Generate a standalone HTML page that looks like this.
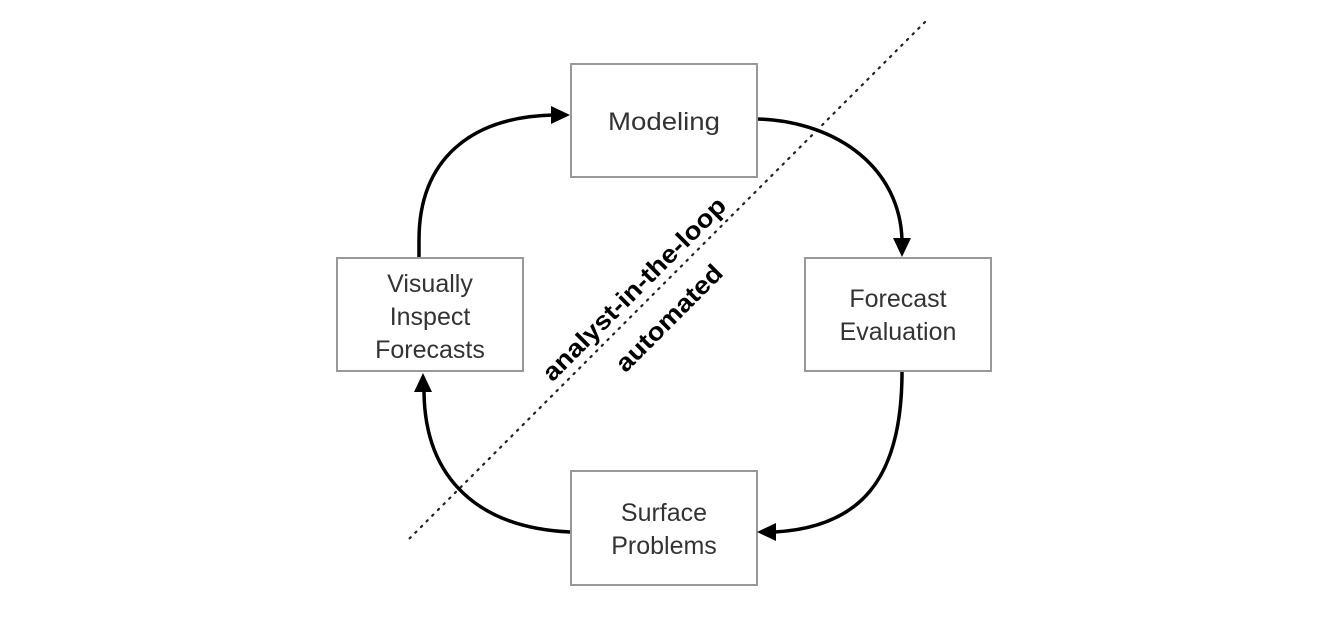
<!DOCTYPE html>
<html><head><style>
html,body{margin:0;padding:0;background:#fff;}
</style></head><body>
<svg width="1322" height="616" viewBox="0 0 1322 616" xmlns="http://www.w3.org/2000/svg">
<line x1="925" y1="22" x2="408" y2="540" stroke="#222" stroke-width="2.2" stroke-dasharray="1.5 6.5" stroke-linecap="round"/>
<g fill="#fff" stroke="#999" stroke-width="2">
<rect x="571" y="64" width="186" height="113"/>
<rect x="337" y="258" width="186" height="113"/>
<rect x="805" y="258" width="186" height="113"/>
<rect x="571" y="471" width="186" height="114"/>
</g>
<g fill="none" stroke="#000" stroke-width="3.5">
<path d="M419 257 L419 240 C419 160 470 117 553 115"/>
<path d="M758 119 C840 122 900 170 902 240"/>
<path d="M902 372 C902 480 860 527 775 532"/>
<path d="M570 532 C480 528 425 480 424 392"/>
</g>
<g fill="#000">
<polygon points="570,115 551,106 551,124"/>
<polygon points="902,257 893,238 911,238"/>
<polygon points="757,532 776,523 776,541"/>
<polygon points="423,373 414,392 432,392"/>
</g>
<g font-family="Liberation Sans, sans-serif" font-size="25" fill="#333" text-anchor="middle">
<text x="664" y="130" textLength="112" lengthAdjust="spacingAndGlyphs">Modeling</text>
<text x="430" y="292">Visually</text>
<text x="430" y="325">Inspect</text>
<text x="430" y="358">Forecasts</text>
<text x="898" y="307">Forecast</text>
<text x="898" y="340">Evaluation</text>
<text x="664" y="521">Surface</text>
<text x="664" y="554">Problems</text>
</g>
<g font-family="Liberation Sans, sans-serif" font-size="25" font-weight="bold" fill="#000" text-anchor="middle">
<text x="0" y="0" transform="translate(640,295) rotate(-45)" textLength="248" lengthAdjust="spacingAndGlyphs">analyst-in-the-loop</text>
<text x="0" y="0" transform="translate(675,324) rotate(-45)" textLength="140" lengthAdjust="spacingAndGlyphs">automated</text>
</g>
</svg>
</body></html>
